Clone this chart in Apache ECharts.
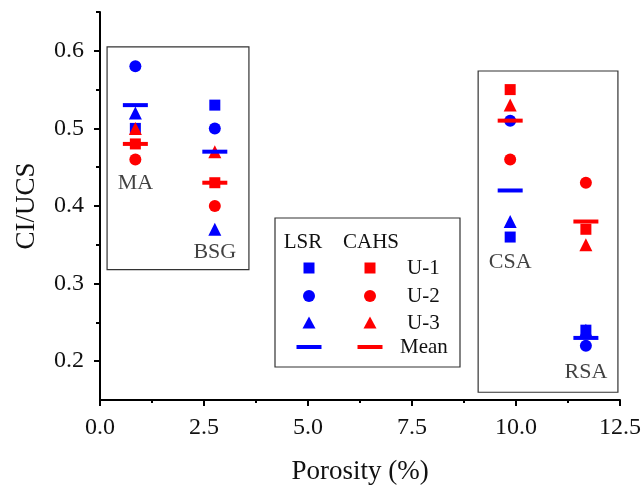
<!DOCTYPE html>
<html>
<head>
<meta charset="utf-8">
<script src="https://cdn.jsdelivr.net/npm/echarts@6/dist/echarts.min.js"></script>
<style>
  html, body { margin: 0; padding: 0; background: #fff; }
  #chart { width: 644px; height: 490px; }
</style>
</head>
<body>
<div id="chart"></div>
<script>
// Rock types and their porosity (%)
const rocks = ['MA', 'BSG', 'CSA', 'RSA'];
const porosity = [0.85, 2.76, 9.86, 11.68];

// CI/UCS ratios, LSR method
const lsrU1 = [0.50, 0.53, 0.36, 0.24];
const lsrU2 = [0.58, 0.50, 0.51, 0.22];
const lsrU3 = [0.52, 0.37, 0.38, 0.24];
const lsrMean = [0.53, 0.47, 0.42, 0.23];

// CI/UCS ratios, CAHS method
const cahsU1 = [0.48, 0.43, 0.55, 0.37];
const cahsU2 = [0.46, 0.40, 0.46, 0.43];
const cahsU3 = [0.50, 0.47, 0.53, 0.35];
const cahsMean = [0.48, 0.43, 0.51, 0.38];

// Rock name label anchors (CI/UCS level under each group)
const labelY = [0.43, 0.34, 0.327, 0.186];

// Grouping boxes [x0, y0, x1, y1] in data units
const groupBoxes = [
  [0.17, 0.605, 3.58, 0.318],
  [9.09, 0.574, 12.45, 0.160]
];

// Axis ticks
const yMajorTicks = [0.2, 0.3, 0.4, 0.5, 0.6];
const yMinorTicks = [0.25, 0.35, 0.45, 0.55, 0.65];

const BLUE = '#0000ff';
const RED = '#ff0000';
const FONT = 'Liberation Serif';
const INK = '#111';

const pairs = vals => porosity.map((x, i) => [x, vals[i]]);

function pointSeries(name, vals, color, symbol, size) {
  return {
    name, type: 'scatter', data: pairs(vals),
    symbol, symbolSize: size,
    itemStyle: { color, opacity: 1 },
    emphasis: { disabled: true }, silent: true
  };
}

const series = [
  pointSeries('LSR U-1', lsrU1, BLUE, 'rect', 11),
  pointSeries('LSR U-2', lsrU2, BLUE, 'circle', 12),
  pointSeries('LSR U-3', lsrU3, BLUE, 'triangle', 13),
  pointSeries('CAHS U-1', cahsU1, RED, 'rect', 11),
  pointSeries('CAHS U-2', cahsU2, RED, 'circle', 12),
  pointSeries('CAHS U-3', cahsU3, RED, 'triangle', 13),
  pointSeries('LSR Mean', lsrMean, BLUE, 'rect', [25, 4]),
  pointSeries('CAHS Mean', cahsMean, RED, 'rect', [25, 4]),
  {
    name: 'rock labels', type: 'scatter', symbolSize: 0, silent: true,
    data: rocks.map((r, i) => ({ value: [porosity[i], labelY[i]], name: r })),
    label: {
      show: true, position: 'inside', formatter: p => p.name,
      fontFamily: FONT, fontSize: 22, color: INK
    },
    markArea: {
      silent: true,
      itemStyle: { color: 'rgba(0,0,0,0)', borderColor: '#333', borderWidth: 1.2 },
      data: groupBoxes.map(b => [{ coord: [b[0], b[1]] }, { coord: [b[2], b[3]] }])
    }
  }
];

// Legend table drawn as graphics
const lg = { x: 275, y: 218, w: 185, h: 149 };
const colL = 309, colC = 370, colT = 407;
const rows = [268, 296, 323, 347];
const legendFont = '21px ' + FONT;
const legendShapes = [];
legendShapes.push({
  type: 'rect', shape: { x: lg.x, y: lg.y, width: lg.w, height: lg.h },
  style: { fill: '#fff', stroke: '#333', lineWidth: 1.2 }
});
legendShapes.push({ type: 'text', x: 303, y: 242, style: { text: 'LSR', font: legendFont, fill: INK, align: 'center', verticalAlign: 'middle' } });
legendShapes.push({ type: 'text', x: 371, y: 242, style: { text: 'CAHS', font: legendFont, fill: INK, align: 'center', verticalAlign: 'middle' } });
const rowNames = ['U-1', 'U-2', 'U-3', 'Mean'];
const rowSymbols = ['rect', 'circle', 'triangle', 'bar'];
rows.forEach((ry, i) => {
  [[colL, BLUE], [colC, RED]].forEach(([cx, col]) => {
    const s = rowSymbols[i];
    if (s === 'rect') legendShapes.push({ type: 'rect', shape: { x: cx - 5.5, y: ry - 5.5, width: 11, height: 11 }, style: { fill: col } });
    else if (s === 'circle') legendShapes.push({ type: 'circle', shape: { cx, cy: ry, r: 6 }, style: { fill: col } });
    else if (s === 'triangle') legendShapes.push({ type: 'polygon', shape: { points: [[cx, ry - 6.5], [cx + 6.5, ry + 5.5], [cx - 6.5, ry + 5.5]] }, style: { fill: col } });
    else legendShapes.push({ type: 'rect', shape: { x: cx - 12.5, y: ry - 2, width: 25, height: 4 }, style: { fill: col } });
  });
  legendShapes.push({
    type: 'text', x: i === 3 ? 400 : colT, y: ry,
    style: { text: rowNames[i], font: legendFont, fill: INK, verticalAlign: 'middle' }
  });
});

const chart = echarts.init(document.getElementById('chart'), null, { renderer: 'canvas' });
chart.setOption({
  animation: false,
  backgroundColor: '#fff',
  grid: { left: 100, right: 24, top: 12, bottom: 89, containLabel: false },
  xAxis: {
    type: 'value', min: 0, max: 12.5, interval: 2.5,
    name: 'Porosity (%)', nameLocation: 'middle', nameGap: 58,
    nameTextStyle: { fontFamily: FONT, fontSize: 27, color: INK },
    axisLine: { show: true, lineStyle: { color: '#000', width: 2 } },
    axisTick: { show: true, inside: false, length: 6, lineStyle: { color: '#000', width: 2 } },
    minorTick: { show: true, splitNumber: 2, length: 3, lineStyle: { color: '#000', width: 2 } },
    axisLabel: { fontFamily: FONT, fontSize: 24, color: INK, margin: 16, formatter: v => v.toFixed(1) },
    splitLine: { show: false }
  },
  yAxis: [
    {
      type: 'value', min: 0.15, max: 0.65,
      name: 'CI/UCS', nameLocation: 'middle', nameGap: 60, nameRotate: 90,
      nameTextStyle: { fontFamily: FONT, fontSize: 27, color: INK },
      axisLine: { show: true, lineStyle: { color: '#000', width: 2 } },
      axisTick: { show: true, inside: false, length: 6, customValues: yMajorTicks, lineStyle: { color: '#000', width: 2 } },
      axisLabel: { fontFamily: FONT, fontSize: 24, color: INK, margin: 16, customValues: yMajorTicks, formatter: v => v.toFixed(1) },
      splitLine: { show: false }
    },
    {
      type: 'value', min: 0.15, max: 0.65, position: 'left',
      axisLine: { show: false },
      axisTick: { show: true, inside: false, length: 4, customValues: yMinorTicks, lineStyle: { color: '#000', width: 2 } },
      axisLabel: { show: false },
      splitLine: { show: false }
    }
  ],
  series,
  graphic: legendShapes
});
</script>
</body>
</html>
